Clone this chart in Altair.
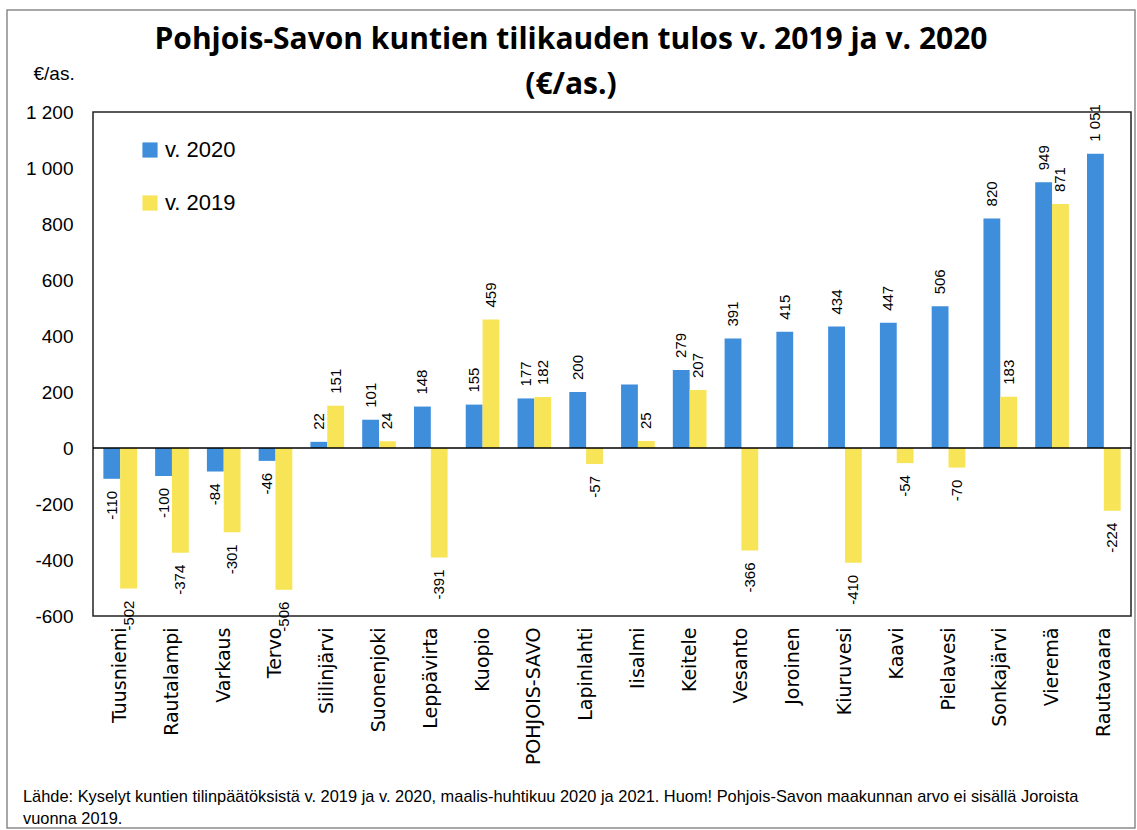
import altair as alt
import pandas as pd

categories = ["Tuusniemi", "Rautalampi", "Varkaus", "Tervo", "Siilinjärvi", "Suonenjoki",
              "Leppävirta", "Kuopio", "POHJOIS-SAVO", "Lapinlahti", "Iisalmi", "Keitele",
              "Vesanto", "Joroinen", "Kiuruvesi", "Kaavi", "Pielavesi", "Sonkajärvi",
              "Vieremä", "Rautavaara"]
v2020 = [-110, -100, -84, -46, 22, 101, 148, 155, 177, 200, 227, 279, 391, 415, 434, 447,
         506, 820, 949, 1051]
v2019 = [-502, -374, -301, -506, 151, 24, -391, 459, 182, -57, 25, 207, -366, None, -410,
         -54, -70, 183, 871, -224]
# the source shows no value label for Iisalmi 2020
hidden_2020 = ["Iisalmi"]

series_names = ["v. 2020", "v. 2019"]
colors = ["#3E8EDB", "#F7E457"]

title_line1 = "Pohjois-Savon kuntien tilikauden tulos v. 2019 ja v. 2020"
title_line2 = "(€/as.)"
footer = ("Lähde: Kyselyt kuntien tilinpäätöksistä v. 2019 ja v. 2020, maalis-huhtikuu 2020 ja 2021. "
          "Huom! Pohjois-Savon maakunnan arvo ei sisällä Joroista\nvuonna 2019.")


def fmt(v):
    return f"{v:,}".replace(",", " ")


rows = []
for c, a, b in zip(categories, v2020, v2019):
    rows.append({"cat": c, "series": "v. 2020", "value": a,
                 "label": "" if c in hidden_2020 else fmt(a)})
    if b is not None:
        rows.append({"cat": c, "series": "v. 2019", "value": b, "label": fmt(b)})
df = pd.DataFrame(rows)

FONT = "Liberation Sans"
AXFONT = "DejaVu Sans"
TFONT = "Open Sans"

x = alt.X("cat:N", sort=categories,
          scale=alt.Scale(paddingInner=0.35, paddingOuter=0.2),
          axis=alt.Axis(title=None, labelAngle=-90, labelFont=AXFONT, labelFontSize=19,
                        labelColor="black", labelPadding=11, ticks=False, domain=False,
                        labelLimit=300))
xo = alt.XOffset("series:N", sort=series_names, scale=alt.Scale(domain=series_names))
y = alt.Y("value:Q", scale=alt.Scale(domain=[-600, 1200], nice=False),
          axis=alt.Axis(values=list(range(-600, 1201, 200)), grid=False, ticks=False, domain=False,
                        labelFont=FONT, labelFontSize=19, labelColor="black", labelPadding=20,
                        labelExpr="replace(replace(format(datum.value, ','), ',', ' '), '\u2212', '-')",
                        title="€/as.", titleAngle=0, titleX=-60, titleY=-39, titleAlign="left",
                        titleBaseline="middle", titleFont=FONT, titleFontSize=19,
                        titleFontWeight="normal", titleColor="black"))

base = alt.Chart(df)

bars = base.mark_bar().encode(
    x=x, xOffset=xo, y=y,
    color=alt.Color("series:N", sort=series_names,
                    scale=alt.Scale(domain=series_names, range=colors),
                    legend=alt.Legend(title=None, orient="none", legendX=46, legendY=27,
                                      symbolType="square", symbolSize=230, symbolStrokeWidth=0,
                                      labelFont=FONT, labelFontSize=22, labelColor="black",
                                      rowPadding=31, labelOffset=4, padding=0))
)

pos = base.transform_filter("datum.value >= 0").mark_text(
    angle=270, align="left", baseline="middle", dx=12, font=FONT, fontSize=15, color="black"
).encode(x=x, xOffset=xo, y=y, text="label:N")

neg = base.transform_filter("datum.value < 0").mark_text(
    angle=270, align="right", baseline="middle", dx=-12, font=FONT, fontSize=15, color="black"
).encode(x=x, xOffset=xo, y=y, text="label:N")

zero = alt.Chart(pd.DataFrame({"z": [0]})).mark_rule(color="black", strokeWidth=1.5).encode(
    y=alt.Y("z:Q"))

t1 = alt.Chart(pd.DataFrame({"t": [title_line1]})).mark_text(
    align="center", baseline="middle", font=TFONT, fontSize=30, fontWeight="bold", color="black"
).encode(x=alt.value(478), y=alt.value(-72), text="t:N")

t2 = alt.Chart(pd.DataFrame({"t": [title_line2]})).mark_text(
    align="center", baseline="middle", font=TFONT, fontSize=30, fontWeight="bold", color="black"
).encode(x=alt.value(478), y=alt.value(-27), text="t:N")

foot = alt.Chart(pd.DataFrame({"t": [footer]})).mark_text(
    align="left", baseline="middle", font=FONT, fontSize=16.4, color="black",
    lineBreak="\n", lineHeight=22
).encode(x=alt.value(-70), y=alt.value(685), text="t:N")

border = alt.Chart(pd.DataFrame({"t": [0]})).mark_rect(
    filled=False, stroke="#8a8a8a", strokeWidth=1.5
).encode(x=alt.value(-86), x2=alt.value(1042), y=alt.value(-102), y2=alt.value(716))

chart = alt.layer(border, bars, zero, pos, neg, t1, t2, foot).properties(
    width=1038, height=504,
    autosize=alt.AutoSizeParams(type="none"),
    padding={"left": 93, "top": 112, "right": 6, "bottom": 214},
).configure_view(stroke="#222222", strokeWidth=1.5)

chart.save("out.html", embed_options={"renderer": "svg", "actions": False})
